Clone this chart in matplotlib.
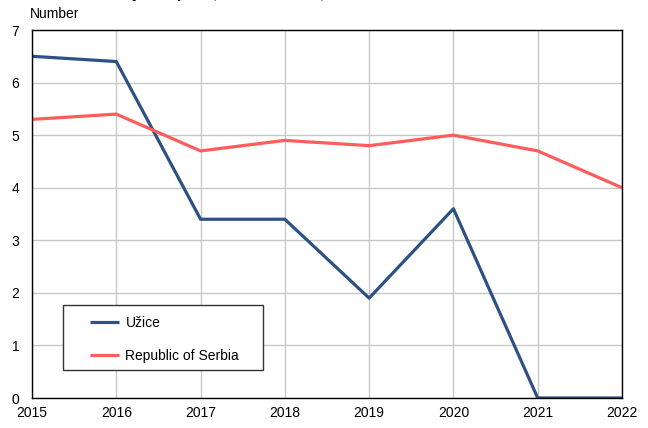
import matplotlib.pyplot as plt
from matplotlib.patches import Rectangle

years = [2015, 2016, 2017, 2018, 2019, 2020, 2021, 2022]
uzice = [6.5, 6.4, 3.4, 3.4, 1.9, 3.6, 0.0, 0.0]
serbia = [5.3, 5.4, 4.7, 4.9, 4.8, 5.0, 4.7, 4.0]

plt.rcParams['font.family'] = ['Liberation Sans', 'DejaVu Sans']

W, H = 648, 428
fig = plt.figure(figsize=(W / 100, H / 100), dpi=100)
ax = fig.add_axes([32 / W, 30 / H, 590 / W, 368 / H])


def ax_xy(px, py):
    # pixel position (from top-left) -> axes fraction
    return (px - 32) / 590, (398 - py) / 368


ax.plot(years, uzice, color='#2e5183', lw=2.3, label='Užice', solid_capstyle='butt')
ax.plot(years, serbia, color='#ff5c5c', lw=2.3, label='Republic of Serbia', solid_capstyle='butt')

ax.set_xlim(2015, 2022)
ax.set_ylim(0, 7)
ax.set_xticks(years)
ax.set_yticks(range(8))
ax.grid(True, color='#c8c8c8', lw=1)
ax.set_axisbelow(True)
ax.tick_params(length=0, labelsize=10, pad=6)
ax.tick_params(axis='y', pad=9)
for s in ax.spines.values():
    s.set_color('black')
    s.set_linewidth(1)

fig.text(30 / W, 1 - 14 / H, 'Number', fontsize=10, va='center', ha='left')
fig.text(30 / W, 1 + 1.5 / H, 'Infant mortality rate per 1,000 live births, 2015–2022',
         fontsize=11, fontweight='bold', va='baseline', ha='left')

# legend box drawn separately so the padding can differ horizontally/vertically
x0, y0 = ax_xy(63, 370)
x1, y1 = ax_xy(263, 305)
ax.add_patch(Rectangle((x0, y0), x1 - x0, y1 - y0, transform=ax.transAxes,
                       facecolor='white', edgecolor='#333333', lw=1, zorder=5))
leg = ax.legend(loc='upper left', bbox_to_anchor=ax_xy(90, 316), frameon=False,
                handlelength=2.1, labelspacing=1.35, borderpad=0, fontsize=10,
                handletextpad=0.45, borderaxespad=0)
leg.set_zorder(6)

fig.savefig('out.png', dpi=100)
